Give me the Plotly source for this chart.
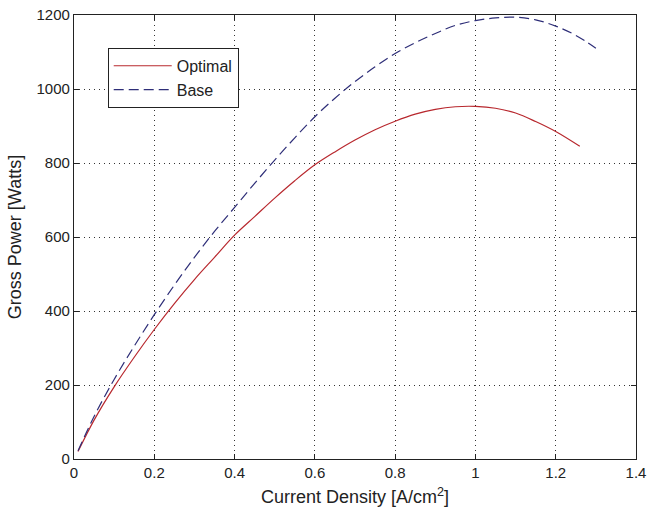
import plotly.graph_objects as go

x_opt = [0.01, 0.05, 0.1, 0.15, 0.2, 0.25, 0.3, 0.35, 0.4, 0.45, 0.5, 0.55, 0.6, 0.65, 0.7, 0.75, 0.8, 0.85, 0.9, 0.95, 1.0, 1.05, 1.1, 1.15, 1.2, 1.26]
y_opt = [20, 105, 195, 275, 350, 420, 485, 545, 605, 655, 705, 752, 795, 830, 862, 890, 913, 932, 945, 952, 953, 948, 935, 912, 885, 845]

x_base = [0.01, 0.05, 0.1, 0.15, 0.2, 0.25, 0.3, 0.35, 0.4, 0.45, 0.5, 0.55, 0.6, 0.65, 0.7, 0.75, 0.8, 0.85, 0.9, 0.95, 1.0, 1.05, 1.1, 1.15, 1.2, 1.25, 1.3]
y_base = [22, 115, 215, 305, 390, 470, 545, 615, 680, 745, 808, 868, 925, 975, 1020, 1060, 1096, 1125, 1150, 1172, 1185, 1192, 1194, 1187, 1170, 1145, 1110]

x_ticks = [0, 0.2, 0.4, 0.6, 0.8, 1, 1.2, 1.4]
y_ticks = [0, 200, 400, 600, 800, 1000, 1200]

FONT = "Liberation Sans, Arial"

fig = go.Figure()
fig.add_trace(go.Scatter(x=x_opt, y=y_opt, mode="lines", name="Optimal",
                         line=dict(color="#b8282e", width=1.2, shape="spline")))
fig.add_trace(go.Scatter(x=x_base, y=y_base, mode="lines", name="Base",
                         line=dict(color="#2e2e78", width=1.2, dash="10px,5px", shape="spline")))

axis_common = dict(
    showline=True, linecolor="#222222", linewidth=1.3, mirror="ticks",
    ticks="inside", ticklen=5, tickcolor="#222222",
    showgrid=True, gridcolor="#333333", gridwidth=1, griddash="1px,4px",
    zeroline=False, automargin=False, ticklabeloverflow="allow",
    tickfont=dict(family=FONT, size=15, color="#222222"),
)

fig.update_xaxes(range=[0, 1.4], tickvals=x_ticks, ticktext=[str(v) for v in x_ticks],
                 title=dict(text="Current Density [A/cm<sup>2</sup>]", standoff=10,
                            font=dict(family=FONT, size=18, color="#222222")),
                 **axis_common)
fig.update_yaxes(range=[0, 1200], tickvals=y_ticks, ticktext=[str(v) for v in y_ticks],
                 title=dict(text="Gross Power [Watts]", standoff=10,
                            font=dict(family=FONT, size=18, color="#222222")),
                 **axis_common)

fig.update_layout(
    width=648, height=514,
    margin=dict(l=74, r=12, t=15, b=55),
    paper_bgcolor="white", plot_bgcolor="white",
    showlegend=True,
    legend=dict(x=0.06, y=0.926, xanchor="left", yanchor="top",
                bgcolor="white", bordercolor="#222222", borderwidth=1,
                font=dict(family=FONT, size=16, color="#222222"),
                itemwidth=58, tracegroupgap=0),
)

fig.write_html("out.html", config={"displayModeBar": False},
               post_script="document.body.style.margin='0';")
